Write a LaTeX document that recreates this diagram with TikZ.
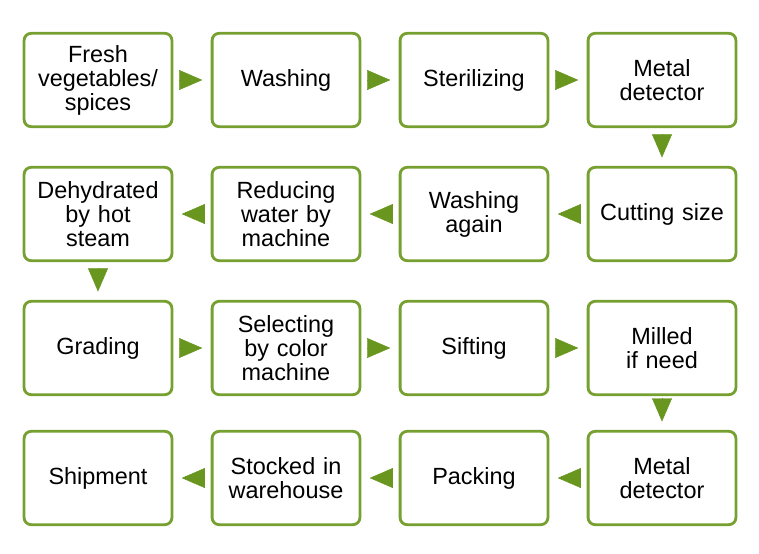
\documentclass[tikz,border=0pt]{standalone}
\usepackage{fontspec}
\setmainfont{Liberation Sans}
\usetikzlibrary{arrows.meta}
\definecolor{boxgreen}{RGB}{118,160,48}
\definecolor{tipgreen}{RGB}{104,150,30}
\tikzset{
  stage/.style={draw=boxgreen, line width=2.4pt, rounded corners=6pt, fill=white,
    minimum width=4.4cm, minimum height=2.8cm, align=center, text width=4.2cm,
    font=\fontsize{20}{20.5}\selectfont},
  flow/.style={draw=tipgreen, line width=0.4pt, -{Triangle[length=0.7cm,width=0.6cm]},
    shorten <=0.25cm, shorten >=0.25cm}
}
\begin{document}
\begin{tikzpicture}[x=0.03cm,y=-0.03cm]
    \useasboundingbox (0,0) rectangle (759,553);
    %% row 1
    \node[stage] (fresh) at (98,80) {Fresh\\vegetables/\\spices};
    \node[stage] (wash) at (286,80) {Washing};
    \node[stage] (steril) at (474,80) {Sterilizing};
    \node[stage] (metal1) at (662,80) {Metal\\detector};
    %% row 2
    \node[stage] (cut) at (662,214) {Cutting size};
    \node[stage] (again) at (474,214) {Washing\\again};
    \node[stage] (reduce) at (286,214) {Reducing\\water by\\machine};
    \node[stage] (dehyd) at (98,214) {Dehydrated\\by hot\\steam};
    %% row 3
    \node[stage] (grade) at (98,348) {Grading};
    \node[stage] (select) at (286,348) {Selecting\\by color\\machine};
    \node[stage] (sift) at (474,348) {Sifting};
    \node[stage] (mill) at (662,348) {Milled\\if need};
    %% row 4
    \node[stage] (metal2) at (662,478) {Metal\\detector};
    \node[stage] (pack) at (474,478) {Packing};
    \node[stage] (stock) at (286,478) {Stocked in\\warehouse};
    \node[stage] (ship) at (98,478) {Shipment};
    %% arrows
    \draw[flow] (fresh) -- (wash);
    \draw[flow] (wash) -- (steril);
    \draw[flow] (steril) -- (metal1);
    \draw[flow] (metal1) -- (cut);
    \draw[flow] (cut) -- (again);
    \draw[flow] (again) -- (reduce);
    \draw[flow] (reduce) -- (dehyd);
    \draw[flow] (dehyd) -- (grade);
    \draw[flow] (grade) -- (select);
    \draw[flow] (select) -- (sift);
    \draw[flow] (sift) -- (mill);
    \draw[flow] (mill) -- (metal2);
    \draw[flow] (metal2) -- (pack);
    \draw[flow] (pack) -- (stock);
    \draw[flow] (stock) -- (ship);
\end{tikzpicture}
\end{document}
